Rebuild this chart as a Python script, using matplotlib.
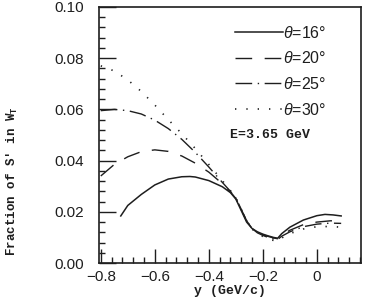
import matplotlib
matplotlib.use("Agg")
import matplotlib.pyplot as plt
from matplotlib.ticker import MultipleLocator, FixedLocator

# ---- data ----
x16 = [-0.726, -0.70, -0.65, -0.60, -0.55, -0.50, -0.47, -0.45, -0.40, -0.35, -0.32,
       -0.30, -0.28, -0.26, -0.24, -0.22, -0.20, -0.18, -0.16, -0.145, -0.13, -0.10,
       -0.05, 0.0, 0.03, 0.06, 0.09]
y16 = [0.0184, 0.0225, 0.0268, 0.0305, 0.0328, 0.0337, 0.0338, 0.0336, 0.0322, 0.0298,
       0.0275, 0.0250, 0.0205, 0.0160, 0.0135, 0.0122, 0.0113, 0.0106, 0.0100, 0.0097,
       0.0115, 0.0140, 0.0168, 0.0185, 0.0190, 0.0188, 0.0184]

x_other = [-0.80, -0.75, -0.70, -0.65, -0.60, -0.55, -0.50, -0.45, -0.40, -0.35, -0.32,
           -0.30, -0.28, -0.26, -0.24, -0.22, -0.20, -0.18, -0.16, -0.145, -0.13, -0.10,
           -0.05, 0.0, 0.05, 0.09]
y20 = [0.0340, 0.0385, 0.0415, 0.0435, 0.0442, 0.0436, 0.0418, 0.0390, 0.0355, 0.0310,
       0.0278, 0.0252, 0.0210, 0.0165, 0.0135, 0.0120, 0.0110, 0.0104, 0.0098, 0.0095,
       0.0110, 0.0128, 0.0150, 0.0160, 0.0165, 0.0165]
y25 = [0.0595, 0.0600, 0.0595, 0.0582, 0.0558, 0.0525, 0.0483, 0.0432, 0.0375, 0.0315,
       0.0280, 0.0254, 0.0210, 0.0165, 0.0135, 0.0118, 0.0108, 0.0100, 0.0094, 0.0092,
       0.0105, 0.0122, 0.0142, 0.0152, 0.0156, 0.0155]
y30 = [0.0770, 0.0750, 0.0715, 0.0670, 0.0617, 0.0560, 0.0505, 0.0447, 0.0385, 0.0322,
       0.0283, 0.0256, 0.0210, 0.0165, 0.0133, 0.0115, 0.0104, 0.0095, 0.0088, 0.0085,
       0.0098, 0.0115, 0.0133, 0.0142, 0.0143, 0.0140]

labels = [r"$\theta$=16°", r"$\theta$=20°", r"$\theta$=25°", r"$\theta$=30°"]
xticks = [-0.8, -0.6, -0.4, -0.2, 0.0]
xticklabels = ["\u22120.8", "\u22120.6", "\u22120.4", "\u22120.2", "0"]
yticks = [0.00, 0.02, 0.04, 0.06, 0.08, 0.10]
yticklabels = ["0.00", "0.02", "0.04", "0.06", "0.08", "0.10"]

ink = "#1e1e1e"
plt.rcParams['mathtext.fontset'] = 'custom'
plt.rcParams['mathtext.it'] = 'Liberation Sans:italic'
plt.rcParams['mathtext.rm'] = 'Liberation Sans'

fig = plt.figure(figsize=(3.69, 3.01), dpi=100)
ax = fig.add_axes([0.268, 0.126, 0.710, 0.851])

ax.plot(x16, y16, color=ink, lw=1.1, linestyle='-', label=labels[0])
ax.plot(x_other, y20, color=ink, lw=1.0, linestyle=(0, (12, 9)), label=labels[1])
ax.plot(x_other, y25, color=ink, lw=1.0, linestyle=(0, (12, 4, 1, 4)), label=labels[2])
ax.plot(x_other, y30, color=ink, lw=1.2, linestyle=(0, (0.8, 6)), label=labels[3])

ax.set_xlim(-0.807, 0.163)
ax.set_ylim(0.0, 0.10)

ax.xaxis.set_major_locator(FixedLocator(xticks))
ax.set_xticklabels(xticklabels)
ax.xaxis.set_minor_locator(MultipleLocator(0.04))
ax.yaxis.set_major_locator(FixedLocator(yticks))
ax.set_yticklabels(yticklabels)
ax.yaxis.set_minor_locator(MultipleLocator(0.004))

for s in ax.spines.values():
    s.set_color(ink)
    s.set_linewidth(1.2)

ax.tick_params(axis='both', which='both', direction='in', color=ink,
               top=False, right=False, width=1.0, labelcolor=ink)
ax.tick_params(axis='x', which='major', length=10, pad=5)
ax.tick_params(axis='y', which='major', length=12, pad=11)
ax.tick_params(axis='both', which='minor', length=4)
for lab in ax.get_xticklabels() + ax.get_yticklabels():
    lab.set_fontfamily('Liberation Sans')
    lab.set_fontsize(11)

ax.set_xlabel("y (GeV/c)", fontfamily='Liberation Mono', fontweight='bold',
              fontsize=9.5, color=ink, labelpad=1)
ax.set_ylabel(r"Fraction of S' in W$_\mathregular{T}$", fontfamily='Liberation Mono',
              fontweight='bold', fontsize=9, color=ink)
ax.yaxis.set_label_coords(-0.30, 0.32)

leg = ax.legend(loc='upper right', bbox_to_anchor=(0.868, 0.93), frameon=False,
                handlelength=3.0, handletextpad=0.0, labelspacing=0.6,
                borderpad=0, borderaxespad=0,
                prop={'family': 'Liberation Sans', 'size': 11.5})
for t in leg.get_texts():
    t.set_color(ink)

ax.text((230 - 99) / 262, 1 - (135 - 7) / 256, "E=3.65 GeV", transform=ax.transAxes,
        fontfamily='Liberation Mono', fontsize=9.5, fontweight='bold', color=ink,
        ha='left', va='center')

fig.savefig("out.png", dpi=100)
